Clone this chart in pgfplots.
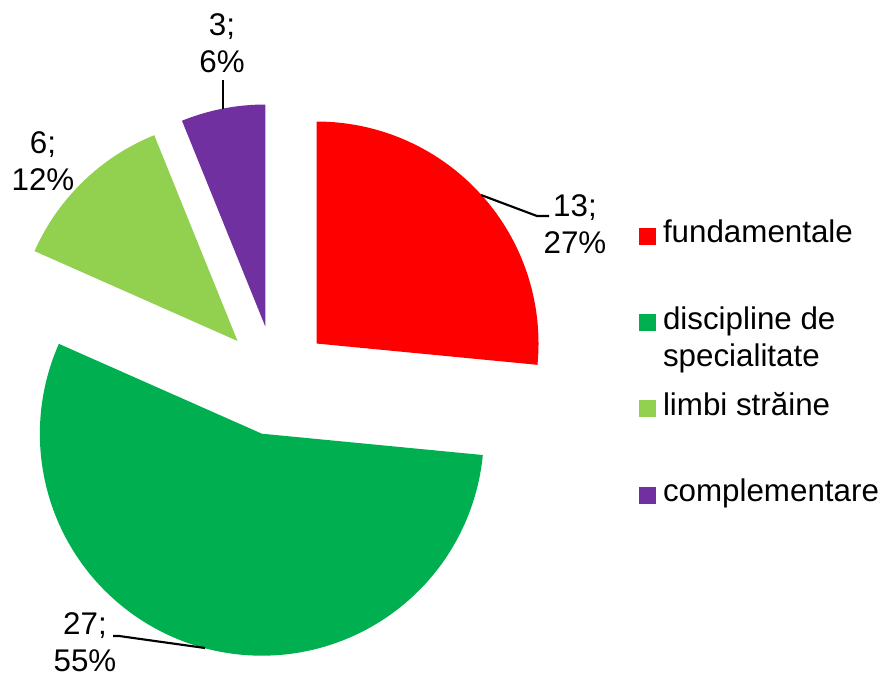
\documentclass[border=0pt]{standalone}
\usepackage{fontspec}
\setmainfont{Liberation Sans}
\usepackage{pgfplots}
\usepackage{pgfplotstable}
\pgfplotsset{compat=1.18}

\definecolor{cfund}{HTML}{FF0000}
\definecolor{cspec}{HTML}{00B050}
\definecolor{climb}{HTML}{92D050}
\definecolor{ccompl}{HTML}{7030A0}

\pgfplotstableread{
cat value
fundamentale 13
specialitate 27
straine 6
complementare 3
}\piedata

\newcommand\lblfont{\fontsize{23.5}{28}\selectfont}

\begin{document}
\begin{tikzpicture}
\pgfplotstablegetelem{0}{value}\of\piedata \let\vA\pgfplotsretval
\pgfplotstablegetelem{1}{value}\of\piedata \let\vB\pgfplotsretval
\pgfplotstablegetelem{2}{value}\of\piedata \let\vC\pgfplotsretval
\pgfplotstablegetelem{3}{value}\of\piedata \let\vD\pgfplotsretval
\pgfmathsetmacro\tot{\vA+\vB+\vC+\vD}
% slice boundaries, clockwise from 12 o'clock
\def\aA{90}
\pgfmathsetmacro\aB{\aA-360*\vA/\tot}
\pgfmathsetmacro\aC{\aB-360*\vB/\tot}
\pgfmathsetmacro\aD{\aC-360*\vC/\tot}
\pgfmathsetmacro\aE{\aD-360*\vD/\tot}
\pgfmathtruncatemacro\pA{round(100*\vA/\tot)}
\pgfmathtruncatemacro\pB{round(100*\vB/\tot)}
\pgfmathtruncatemacro\pC{round(100*\vC/\tot)}
\pgfmathtruncatemacro\pD{round(100*\vD/\tot)}
% every slice pulled out along its bisector
\def\cx{275.8}\def\cy{297.5}\def\ex{55}\def\rr{222}
\pgfmathsetmacro\xA{\cx+\ex*cos((\aA+\aB)/2)}\pgfmathsetmacro\yA{\cy+\ex*sin((\aA+\aB)/2)}
\pgfmathsetmacro\xB{\cx+\ex*cos((\aB+\aC)/2)}\pgfmathsetmacro\yB{\cy+\ex*sin((\aB+\aC)/2)}
\pgfmathsetmacro\xC{\cx+\ex*cos((\aC+\aD)/2)}\pgfmathsetmacro\yC{\cy+\ex*sin((\aC+\aD)/2)}
\pgfmathsetmacro\xD{\cx+\ex*cos((\aD+\aE)/2)}\pgfmathsetmacro\yD{\cy+\ex*sin((\aD+\aE)/2)}
\begin{axis}[
    hide axis,
    x=0.75pt, y=0.75pt,
    xmin=0, xmax=889, ymin=0, ymax=678,
    clip=false,
    legend cell align=left,
    legend image code/.code={\fill[#1] (0pt,-7.5pt) rectangle (12.75pt,5.25pt);},
    legend style={at={(axis cs:639,457.7)}, anchor=north west,
        draw=none, fill=none, inner sep=0pt, outer sep=0pt,
        row sep=42.7pt, column sep=5.25pt, font=\lblfont,
        nodes={inner sep=0pt, text height=17pt, text depth=5pt, align=left}},
]
\path (0,0) rectangle (889,678);

\addplot[fill=cfund, draw=none, domain=\aB:\aA, samples=90]
    ({\xA+\rr*cos(x)},{\yA+\rr*sin(x)}) -- (\xA,\yA) -- cycle;
\addlegendentry{fundamentale}
\addplot[fill=cspec, draw=none, domain=\aC:\aB, samples=150]
    ({\xB+\rr*cos(x)},{\yB+\rr*sin(x)}) -- (\xB,\yB) -- cycle;
\addlegendentry{\begin{tabular}[t]{@{}l@{}}discipline de\\specialitate\end{tabular}}
\addplot[fill=climb, draw=none, domain=\aD:\aC, samples=50]
    ({\xC+\rr*cos(x)},{\yC+\rr*sin(x)}) -- (\xC,\yC) -- cycle;
\addlegendentry{limbi străine}
\addplot[fill=ccompl, draw=none, domain=\aE:\aD, samples=30]
    ({\xD+\rr*cos(x)},{\yD+\rr*sin(x)}) -- (\xD,\yD) -- cycle;
\addlegendentry{complementare}

% data labels and leader lines (anchored on the last line's baseline)
\draw[line width=1.6pt] (481,483) -- (537,462) -- (549,462);
\draw[line width=1.6pt] (113,42) -- (119,42) -- (205,30);
\draw[line width=1.6pt] (223,598) -- (223,569);
\node[anchor=base, align=center, inner sep=0pt, font=\lblfont] at (575,424) {\vA;\\\pA\%};
\node[anchor=base, align=center, inner sep=0pt, font=\lblfont] at (85,6) {\vB;\\\pB\%};
\node[anchor=base, align=center, inner sep=0pt, font=\lblfont] at (43,487) {\vC;\\\pC\%};
\node[anchor=base, align=center, inner sep=0pt, font=\lblfont] at (222,605) {\vD;\\\pD\%};
\end{axis}
\end{tikzpicture}
\end{document}
